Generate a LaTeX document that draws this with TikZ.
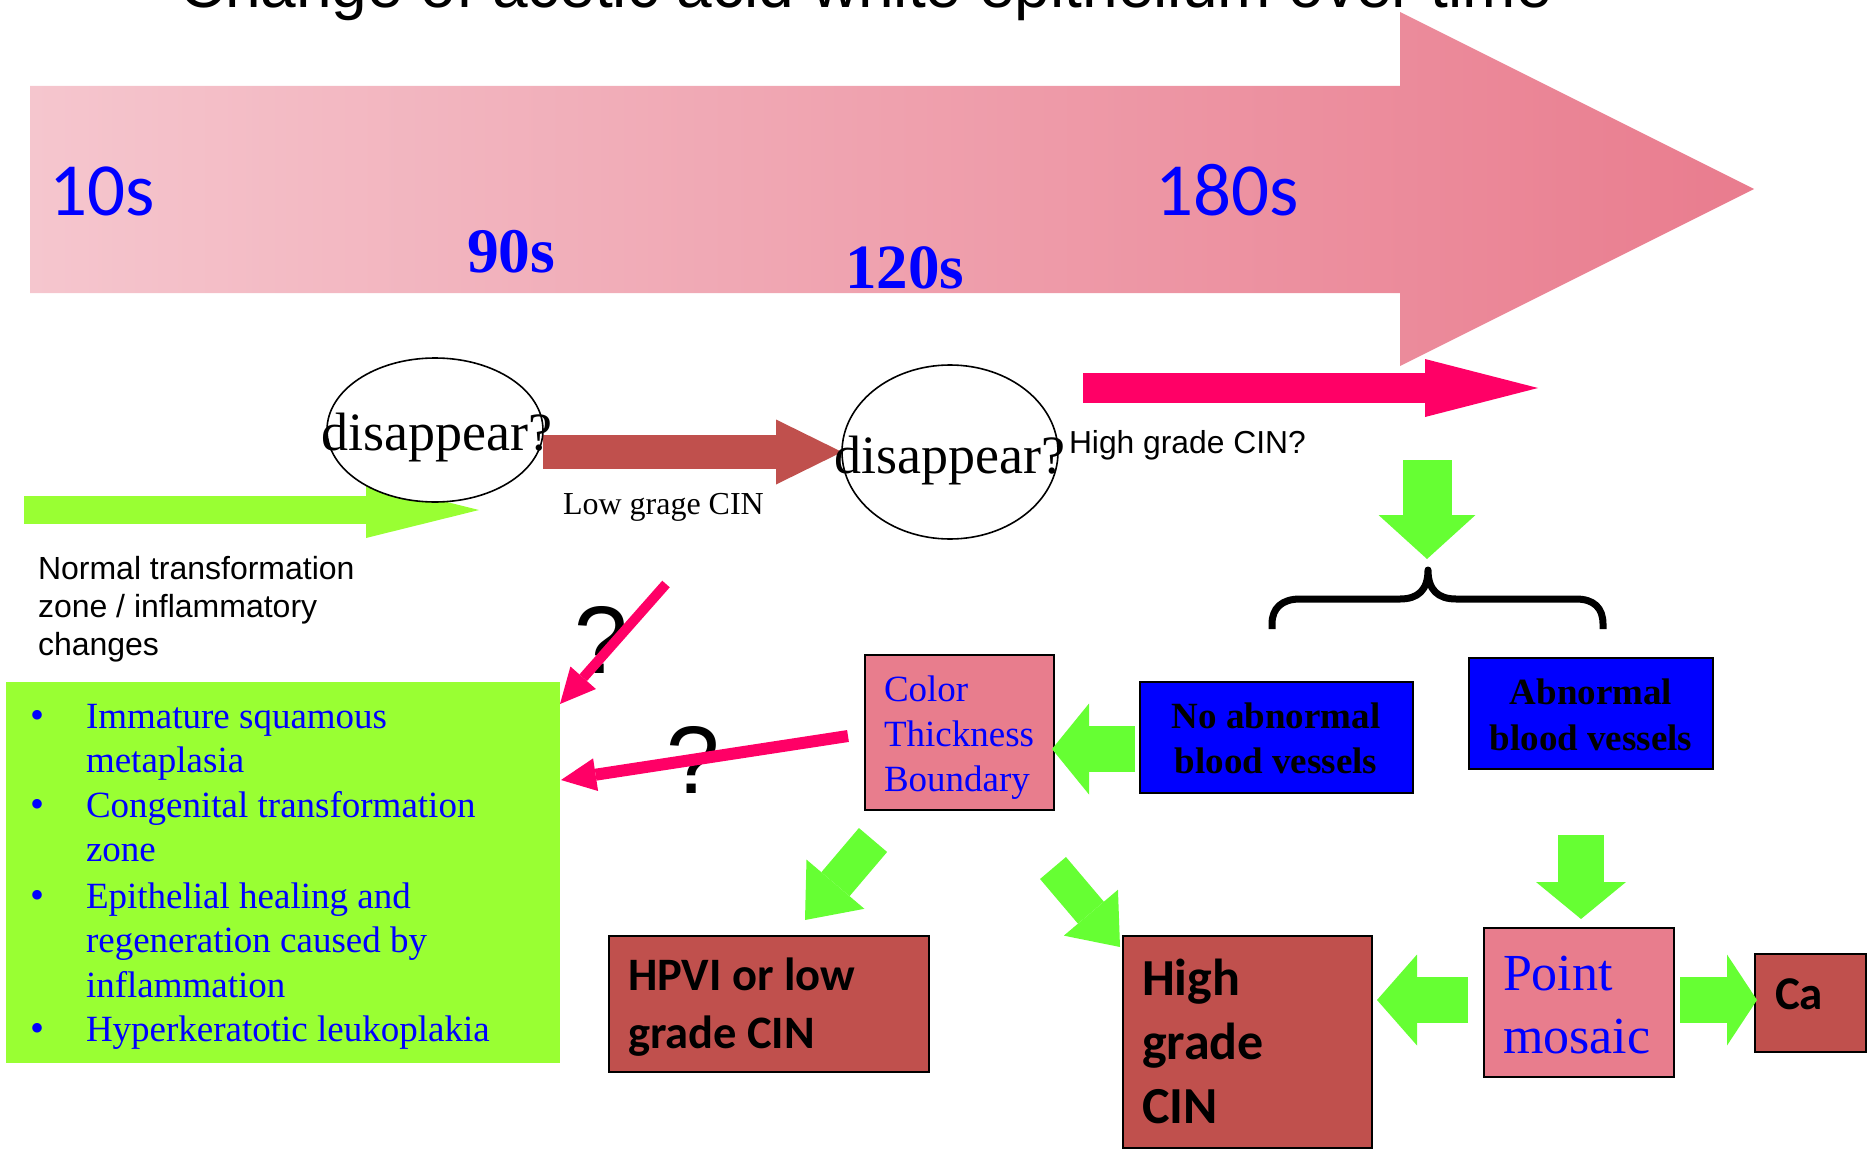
\documentclass[tikz,border=0pt]{standalone}
\usepackage{fontspec}
\setmainfont{Liberation Serif}
\newfontfamily\arialf{Liberation Sans}
\newfontfamily\calf{Carlito}
\usetikzlibrary{shapes.geometric,arrows.meta}
\pgfdeclarelayer{back}
\pgfdeclarelayer{mid}
\pgfsetlayers{back,mid,main}
\definecolor{arrL}{RGB}{245,198,206}
\definecolor{arrR}{RGB}{233,124,142}
\definecolor{lgreen}{RGB}{153,255,51}
\definecolor{bgreen}{RGB}{102,255,51}
\definecolor{cinred}{RGB}{192,80,77}
\definecolor{hotpink}{RGB}{255,0,102}
\definecolor{boxpink}{RGB}{232,125,141}
\definecolor{txtblue}{RGB}{0,0,255}
\newcommand\fsz[2]{\fontsize{#1}{#2}\selectfont}
\tikzset{
  txt/.style={inner sep=0pt, outer sep=0pt},
  btxt/.style={inner sep=0pt, outer sep=0pt, text=txtblue},
  cbox/.style={draw=black, line width=2pt, inner sep=0pt, outer sep=0pt},
  ell/.style={ellipse, draw=black, line width=1.6pt, fill=white, inner sep=0pt, outer sep=0pt},
  barrow/.style n args={3}{line width=#1, line cap=butt, -{Triangle[width=#2, length=#3, line width=0pt]}},
}
\begin{document}
\begin{tikzpicture}[x=1pt,y=-1pt]
\useasboundingbox (0,0) rectangle (1868,1153);

% ---------- big time arrow ----------
\begin{pgfonlayer}{back}
\shade[left color=arrL, right color=arrR] (30,86) -- (1400,86) -- (1400,12) -- (1754,189) -- (1400,366) -- (1400,293) -- (30,293) -- cycle;
\end{pgfonlayer}

\node[txt, anchor=base west] (title) at (179,8) {\arialf\fsz{64}{75}Change of acetic acid white epithelium over time};
\node[btxt, anchor=base west] (t10) at (49,215) {\calf\fsz{75}{80}10s};
\node[btxt, anchor=base west] (t180) at (1155,215) {\calf\fsz{75}{80}180s};
\node[btxt, anchor=base west] (t90) at (467,272) {\bfseries\fsz{63.5}{70}90s};
\node[btxt, anchor=base west] (t120) at (845,288) {\bfseries\fsz{63}{70}120s};

% ---------- ellipses ----------
\node[ell, minimum width=216pt, minimum height=144pt] (e1) at (435,430) {};
\node[txt, anchor=base] (e1t) at (437,450) {\fsz{54}{60}disappear?};
\node[ell, minimum width=216pt, minimum height=174pt] (e2) at (950,452) {};
\node[txt, anchor=base] (e2t) at (950,473) {\fsz{54}{60}disappear?};

\node[txt, anchor=base west] (lowt) at (563,514) {\fsz{32}{36}Low grage CIN};
\node[txt, anchor=base west] (hight) at (1069,453) {\arialf\fsz{31.8}{36}High grade CIN?};
\node[txt, anchor=base west] (normt) at (38,579) {\parbox[t]{400pt}{\raggedright\arialf\fsz{32}{38}Normal transformation\\zone / inflammatory\\changes}};

% ---------- list box ----------
\node[inner sep=0pt, outer sep=0pt, fill=lgreen, minimum width=554pt, minimum height=381pt] (lst) at (283,872.5) {};
\node[btxt, anchor=base west] (b1) at (30,728) {\fsz{40}{45}\textbullet};
\node[btxt, anchor=base west] (b2) at (30,817) {\fsz{40}{45}\textbullet};
\node[btxt, anchor=base west] (b3) at (30,908) {\fsz{40}{45}\textbullet};
\node[btxt, anchor=base west] (b4) at (30,1041) {\fsz{40}{45}\textbullet};
\node[btxt, anchor=base west] (i1) at (86,728) {\parbox[t]{460pt}{\raggedright\fsz{37}{44.5}Immature squamous\\metaplasia}};
\node[btxt, anchor=base west] (i2) at (86,817) {\parbox[t]{460pt}{\raggedright\fsz{37}{44.5}Congenital transformation\\zone}};
\node[btxt, anchor=base west] (i3) at (86,908) {\parbox[t]{460pt}{\raggedright\fsz{37}{44.5}Epithelial healing and\\regeneration caused by\\inflammation}};
\node[btxt, anchor=base west] (i4) at (86,1041) {\parbox[t]{460pt}{\raggedright\fsz{37}{44.5}Hyperkeratotic leukoplakia}};

% ---------- boxes ----------
\node[cbox, fill=boxpink, minimum width=189pt, minimum height=155pt] (ctb) at (959.5,732.5) {};
\node[btxt, anchor=base west] (ctbt) at (884,701) {\parbox[t]{180pt}{\raggedright\fsz{37}{45}Color\\Thickness\\Boundary}};

\node[cbox, fill=blue, minimum width=273pt, minimum height=111pt] (noab) at (1276.5,737.5) {};
\node[txt, anchor=base] (noabt) at (1276,728) {\parbox[t]{273pt}{\centering\bfseries\fsz{37}{45}No abnormal\\blood vessels}};

\node[cbox, fill=blue, minimum width=244pt, minimum height=111pt] (abn) at (1591,713.5) {};
\node[txt, anchor=base] (abnt) at (1591,704) {\parbox[t]{244pt}{\centering\bfseries\fsz{37}{46}Abnormal\\blood vessels}};

\node[cbox, fill=cinred, minimum width=320pt, minimum height=136pt] (hpvi) at (769,1004) {};
\node[txt, anchor=base west] (hpvit) at (628,990) {\parbox[t]{300pt}{\raggedright\calf\bfseries\fsz{46.5}{58}HPVI or low\\grade CIN}};

\node[cbox, fill=cinred, minimum width=249pt, minimum height=212pt] (hg) at (1247.5,1042) {};
\node[txt, anchor=base west] (hgt) at (1142,995) {\parbox[t]{220pt}{\raggedright\calf\bfseries\fsz{52}{64}High\\grade\\CIN}};

\node[cbox, fill=boxpink, minimum width=190pt, minimum height=149pt] (pm) at (1579,1002.5) {};
\node[btxt, anchor=base west] (pmt) at (1503,990) {\parbox[t]{180pt}{\raggedright\fsz{52}{63}Point\\mosaic}};

\node[cbox, fill=cinred, minimum width=111pt, minimum height=98pt] (ca) at (1810.5,1003) {};
\node[txt, anchor=base west] (cat) at (1775,1009) {\calf\bfseries\fsz{47}{50}Ca};

% ---------- question marks ----------
\node[txt, anchor=base west] (q1) at (574,673) {\arialf\fsz{96}{100}?};
\node[txt, anchor=base west] (q2) at (666,793) {\arialf\fsz{96}{100}?};

% ---------- connector coordinates ----------
\coordinate (g1a) at (24,510);
\coordinate (g1b) at (479,510);
\coordinate (p1a) at (1083,388);
\coordinate (p1b) at (1538,388);
\coordinate (g2a) at (1427,460);
\coordinate (g2b) at (1427,559);
\coordinate (g3a) at (1135,749);
\coordinate (g3b) at (1052,749);
\coordinate (g4a) at (873,840);
\coordinate (g4b) at (805,920);
\coordinate (g5a) at (1053,868);
\coordinate (g5b) at (1120,947);
\coordinate (g6a) at (1581,835);
\coordinate (g6b) at (1581,919);
\coordinate (g7a) at (1468,1000);
\coordinate (g7b) at (1377,1000);
\coordinate (g8a) at (1680,1000);
\coordinate (g8b) at (1757,1000);
\coordinate (paa) at (666,584);
\coordinate (pab) at (560,704);
\coordinate (pba) at (848,736);
\coordinate (pbb) at (561,780);

% ---------- arrows behind ellipses ----------
\begin{pgfonlayer}{mid}
\draw[lgreen, barrow={28pt}{56pt}{113pt}] (g1a) -- (g1b);
\draw[cinred, barrow={34pt}{65pt}{66pt}] (e1.east |- e2.west) -- (e2.west);
\end{pgfonlayer}

% ---------- other arrows ----------
\draw[hotpink, barrow={30pt}{58pt}{113pt}] (p1a) -- (p1b);
\draw[bgreen, barrow={49pt}{97pt}{44pt}] (g2a) -- (g2b);
\draw[bgreen, barrow={46pt}{91pt}{37pt}] (g3a) -- (g3b);
\draw[bgreen, barrow={37pt}{76pt}{47pt}] (g4a) -- (g4b);
\draw[bgreen, barrow={34pt}{71pt}{45pt}] (g5a) -- (g5b);
\draw[bgreen, barrow={46pt}{90pt}{37pt}] (g6a) -- (g6b);
\draw[bgreen, barrow={46pt}{91pt}{40pt}] (g7a) -- (g7b);
\draw[bgreen, barrow={46pt}{91pt}{30pt}] (g8a) -- (g8b);
\draw[hotpink, barrow={10pt}{34pt}{35pt}] (paa) -- (pab);
\draw[hotpink, barrow={12pt}{33pt}{35pt}] (pba) -- (pbb);

% ---------- brace ----------
\draw[line width=7pt, line cap=butt, line join=round] (1272,629) -- (1272,624) .. controls (1272,608) and (1282,599) .. (1300,599) -- (1400,599) .. controls (1418,599) and (1428,590) .. (1428,570) .. controls (1428,590) and (1438,599) .. (1456,599) -- (1576,599) .. controls (1594,599) and (1603,608) .. (1603,624) -- (1603,629);
\end{tikzpicture}
\end{document}
